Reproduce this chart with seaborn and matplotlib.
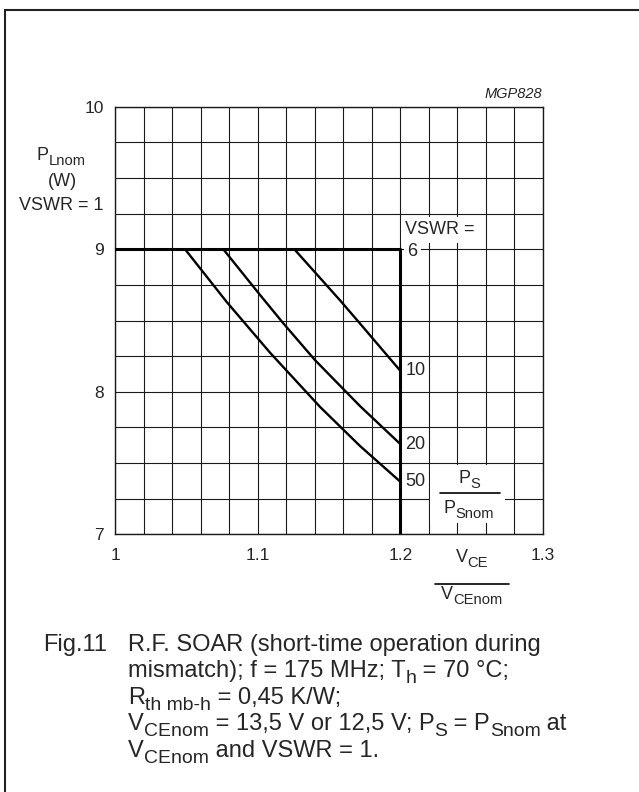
import numpy as np
import pandas as pd
import matplotlib.pyplot as plt
import seaborn as sns
from matplotlib.lines import Line2D
from matplotlib.patches import Rectangle

sns.set_style("white")
plt.rcParams['font.family'] = ['Liberation Sans', 'DejaVu Sans']

# ---------------------------------------------------------------- data
# SOAR limit (VSWR = 6): flat at 9 W up to 1.2, then vertical
limit_x = [1.0, 1.2, 1.2]
limit_y = [9.0, 9.0, 7.0]

vswr10_x = [1.1257, 1.1577, 1.1717, 1.2]
vswr10_y = [9.0, 8.642, 8.479, 8.147]

vswr20_x = [1.0759, 1.1016, 1.1180, 1.1402, 1.1717, 1.2]
vswr20_y = [9.0, 8.680, 8.480, 8.222, 7.900, 7.633]

vswr50_x = [1.0491, 1.0783, 1.1086, 1.1437, 1.1717, 1.2]
vswr50_y = [9.0, 8.630, 8.275, 7.894, 7.620, 7.369]

curve_names = ['10', '20', '50']

x_ticks = [1.0, 1.1, 1.2, 1.3]
x_tick_labels = ['1', '1.1', '1.2', '1.3']
y_ticks = [7, 8, 9, 10]
y_tick_labels = ['7', '8', '9', '10']

W, H = 639, 792


def fx(px):
    return px / W


def fy(py):
    return 1 - py / H


#--------------------------------------------------------------------------------------
def rich(fig, x, y, parts, size, ha='left', sub_scale=0.82, drop=0.27):
    # text with subscripts, placed in pixel coords (x, baseline y)
    renderer = fig.canvas.get_renderer()
    pieces = []
    for s, sub in parts:
        fs = size * sub_scale if sub else size
        t = fig.text(0, 0, s, fontsize=fs, va='baseline', ha='left')
        w = t.get_window_extent(renderer).width
        pieces.append((t, w, sub))
    total = sum(p[1] for p in pieces)
    cur = x - total / 2 if ha == 'center' else x
    for t, w, sub in pieces:
        yy = y + (drop * size * 100 / 72 if sub else 0)
        t.set_position((fx(cur), fy(yy)))
        cur += w


#--------------------------------------------------------------------------------------
def build_frame():
    rows = []
    for name, xs, ys in zip(curve_names, [vswr10_x, vswr20_x, vswr50_x],
                            [vswr10_y, vswr20_y, vswr50_y]):
        for x, y in zip(xs, ys):
            rows.append({'vswr': name, 'x': x, 'y': y})
    return pd.DataFrame(rows)


#--------------------------------------------------------------------------------------
def main():
    fig = plt.figure(figsize=(6.39, 7.92), dpi=100)
    ax = fig.add_axes([fx(115), fy(534.3), 428 / W, 427.6 / H])

    # outer frame (only left / top visible in the reference)
    fig.patches.append(Rectangle((fx(5), -0.1), 2, fy(10) + 0.1, transform=fig.transFigure,
                                 fill=False, ec='#222222', lw=1.5))

    df = build_frame()
    sns.lineplot(data=df, x='x', y='y', hue='vswr', palette={n: 'black' for n in curve_names},
                 sort=False, estimator=None, legend=False, lw=1.7, ax=ax, zorder=3)
    sns.lineplot(x=limit_x, y=limit_y, sort=False, estimator=None, color='black', lw=2.2,
                 ax=ax, zorder=3)

    ax.set_xlim(1.0, 1.3)
    ax.set_ylim(7, 10)
    ax.set_xticks(x_ticks)
    ax.set_xticklabels(x_tick_labels)
    ax.set_yticks(y_ticks)
    ax.set_yticklabels(y_tick_labels)
    ax.set_xticks(np.linspace(1.0, 1.3, 16), minor=True)
    ax.set_yticks(np.linspace(7, 10, 13), minor=True)
    ax.tick_params(which='both', length=0, labelsize=12.5)
    ax.tick_params(axis='x', pad=10)
    ax.tick_params(axis='y', pad=8)
    ax.grid(which='both', color='#1a1a1a', lw=0.8)
    ax.set_axisbelow(True)
    for s in ax.spines.values():
        s.set_color('#1a1a1a')
        s.set_linewidth(1.0)
    ax.set_xlabel('')
    ax.set_ylabel('')

    box = dict(fc='white', ec='none', pad=1.5)
    ends = [vswr10_y[-1], vswr20_y[-1], vswr50_y[-1]]
    for name, y in zip(curve_names, ends):
        ax.annotate(name, xy=(1.2, y), xytext=(3.5, 0), textcoords='offset points',
                    ha='left', va='center', fontsize=13, bbox=box, zorder=4)
    ax.annotate('VSWR =', xy=(1.2, 9.104), xytext=(3.5, 0), textcoords='offset points',
                ha='left', va='baseline', fontsize=13,
                bbox=dict(fc='white', ec='none', pad=3), zorder=4)
    ax.annotate('6', xy=(1.2, 8.985), xytext=(5, 0), textcoords='offset points',
                ha='left', va='center', fontsize=13,
                bbox=dict(fc='white', ec='none', pad=2.5), zorder=4)

    # P_S / P_Snom label inside the grid
    ax.add_patch(Rectangle((1.2208, 7.0792), 0.0526, 0.4104, fc='white', ec='none', zorder=2))
    rich(fig, 469, 483, [('P', False), ('S', True)], 13, ha='center')
    rich(fig, 469, 513, [('P', False), ('Snom', True)], 13, ha='center')
    fig.add_artist(Line2D([fx(440), fx(500)], [fy(493.3), fy(493.3)], color='black', lw=1.2))

    # y label
    rich(fig, 61, 160, [('P', False), ('Lnom', True)], 13, ha='center')
    fig.text(fx(62), fy(186), '(W)', ha='center', va='baseline', fontsize=13)
    fig.text(fx(61), fy(210), 'VSWR = 1', ha='center', va='baseline', fontsize=13)

    # x label
    rich(fig, 472, 562, [('V', False), ('CE', True)], 13, ha='center')
    fig.add_artist(Line2D([fx(435), fx(509)], [fy(584.3), fy(584.3)], color='black', lw=1.2))
    rich(fig, 472, 599, [('V', False), ('CEnom', True)], 13, ha='center')

    fig.text(fx(542), fy(94), 'MGP828', ha='right', va='center', fontsize=10.5, style='italic')

    # caption
    cap = 17
    fig.text(fx(43), fy(651), 'Fig.11', ha='left', va='baseline', fontsize=cap)
    lines = [
        [('R.F. SOAR (short-time operation during', False)],
        [('mismatch); f = 175 MHz; T', False), ('h', True), (' = 70 °C;', False)],
        [('R', False), ('th mb-h', True), (' = 0,45 K/W;', False)],
        [('V', False), ('CEnom', True), (' = 13,5 V or 12,5 V; P', False), ('S', True),
         (' = P', False), ('Snom', True), (' at', False)],
        [('V', False), ('CEnom', True), (' and VSWR = 1.', False)],
    ]
    for parts, yb in zip(lines, [651, 677, 704, 730, 757]):
        rich(fig, 128, yb, parts, cap)

    fig.savefig('out.png', dpi=100)


if __name__ == '__main__':
    main()
